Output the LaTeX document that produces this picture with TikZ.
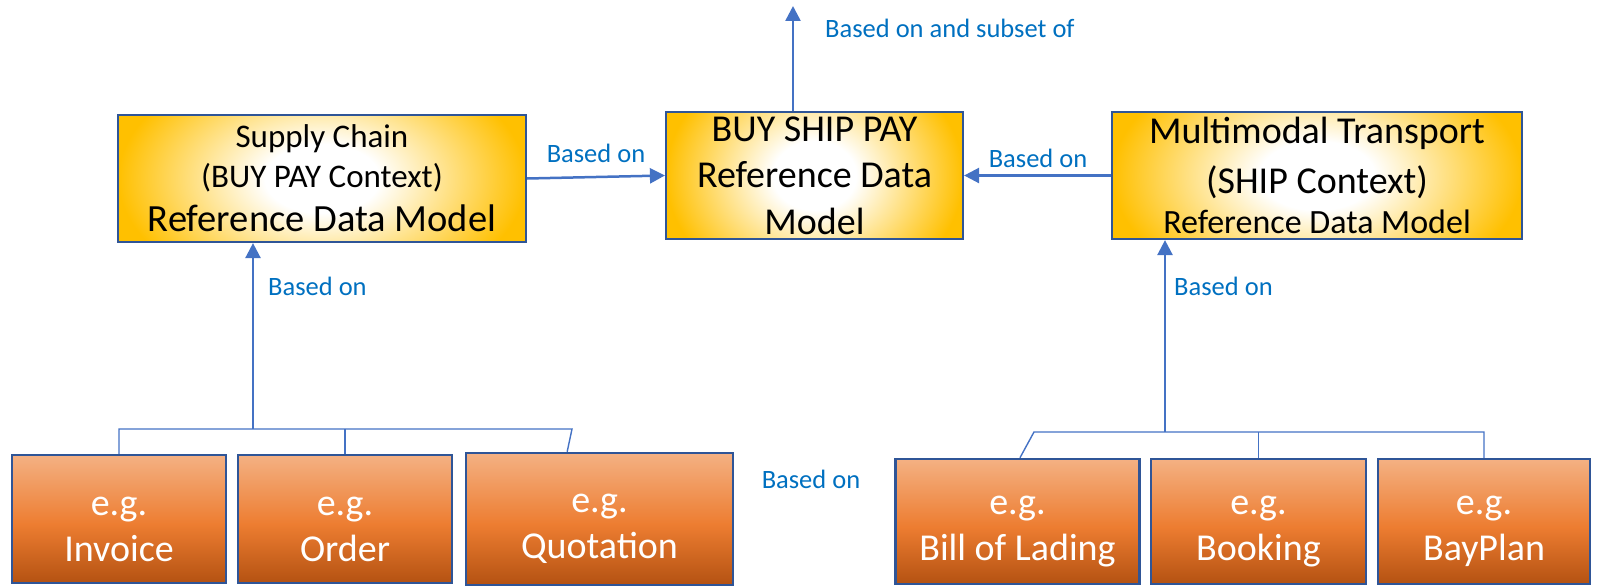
\documentclass[tikz,border=0pt]{standalone}
\usepackage{fontspec}
\setmainfont{Carlito}
\usetikzlibrary{arrows.meta,calc}
\definecolor{gold}{RGB}{255,192,0}
\definecolor{bordblue}{RGB}{47,85,151}
\definecolor{arrblue}{RGB}{68,114,196}
\definecolor{lblblue}{RGB}{0,112,192}
\definecolor{otop}{RGB}{244,177,131}
\definecolor{omid}{RGB}{237,125,49}
\definecolor{obot}{RGB}{180,82,18}
\pgfdeclareradialshading{goldglow}{\pgfpoint{0bp}{0bp}}{color(0bp)=(white); color(7bp)=(white); color(25bp)=(gold); color(50bp)=(gold)}
\pgfdeclareverticalshading{orangeg}{100bp}{color(0bp)=(obot); color(25bp)=(obot); color(48bp)=(omid); color(75bp)=(otop); color(100bp)=(otop)}
\tikzset{
  topbox/.style={draw=bordblue, line width=2.2pt, inner sep=0pt, align=center, text=black,
    path picture={\shade[shading=goldglow] ([yshift=-60pt]path picture bounding box.south west) rectangle ([yshift=60pt]path picture bounding box.north east);}},
  botbox/.style={draw=bordblue, line width=2.5pt, shade, shading=orangeg, text=white, align=center, inner sep=0pt,
    font=\fontsize{38}{46}\selectfont},
  arr/.style={draw=arrblue, line width=2.5pt, -{Triangle[length=15pt,width=15pt]}},
  barline/.style={draw=arrblue, line width=1.4pt},
  lbl/.style={text=lblblue, font=\fontsize{26.5}{30}\selectfont, inner sep=0pt}
}
\newcommand{\tstrut}{\rule{0pt}{39pt}}
\begin{document}
\begin{tikzpicture}[x=1pt,y=-1pt]
\useasboundingbox (0,0) rectangle (1597,586);
% top boxes
\node[topbox, minimum width=408pt, minimum height=127pt, font=\fontsize{33}{40}\selectfont] (sc) at (322,178.5)
  {Supply Chain\\(BUY PAY Context)\\[4pt]\fontsize{38.5}{44}\selectfont Reference Data Model};
\node[topbox, minimum width=297pt, minimum height=127pt, font=\fontsize{38}{46.5}\selectfont] (bsp) at (814.5,175.5)
  {BUY SHIP PAY\\Reference Data\\Model};
\node[topbox, minimum width=410pt, minimum height=127pt, font=\fontsize{38}{50}\selectfont] (mt) at (1317,175.5)
  {Multimodal Transport\\(SHIP Context)\\[-10pt]\fontsize{34}{40}\selectfont Reference Data Model};
% bottom boxes
\node[botbox, minimum width=214pt, minimum height=128pt] (inv) at (119,519) {\tstrut e.g.\\Invoice};
\node[botbox, minimum width=214pt, minimum height=128pt] (ord) at (345,519) {\tstrut e.g.\\Order};
\node[botbox, minimum width=267pt, minimum height=132pt] (quo) at (599.5,519) {\tstrut e.g.\\Quotation};
\node[botbox, minimum width=244pt, minimum height=125pt] (bol) at (1017.5,521.5) {\tstrut e.g.\\Bill of Lading};
\node[botbox, minimum width=215pt, minimum height=125pt] (boo) at (1258.5,521.5) {\tstrut e.g.\\Booking};
\node[botbox, minimum width=212pt, minimum height=125pt] (bay) at (1484,521.5) {\tstrut e.g.\\BayPlan};
% coordinates
\coordinate (uptop) at (793,6);
\coordinate (lb) at (253,429);
\coordinate (lq) at (572,429);
\coordinate (rb) at (1165,432);
\coordinate (rs) at (1034,432);
% connectors
\draw[arr] (sc.east) -- (bsp.west);
\draw[arr] (mt.west) -- (bsp.east);
\draw[arr] (bsp.north -| uptop) -- (uptop);
\draw[barline] (inv.north) |- (lq) -- ($(quo.north west)!0.38!(quo.north east)$);
\draw[barline] (ord.north) -- (ord.north |- lq);
\draw[arr] (lb) -- (sc.south -| lb);
\draw[barline] ($(bol.north west)!0.51!(bol.north east)$) -- (rs) -| (bay.north);
\draw[barline] (boo.north) -- (boo.north |- rs);
\draw[arr] (rb) -- (mt.south -| rb);
% labels
\node[lbl, anchor=west] (l1) at (825,28) {Based on and subset of};
\node[lbl] (l2) at (596,153) {Based on};
\node[lbl] (l3) at (1038,158) {Based on};
\node[lbl, anchor=west] (l4) at (268,286) {Based on};
\node[lbl, anchor=west] (l5) at (1174,286) {Based on};
\node[lbl] (l6) at (811,479) {Based on};
\end{tikzpicture}
\end{document}
